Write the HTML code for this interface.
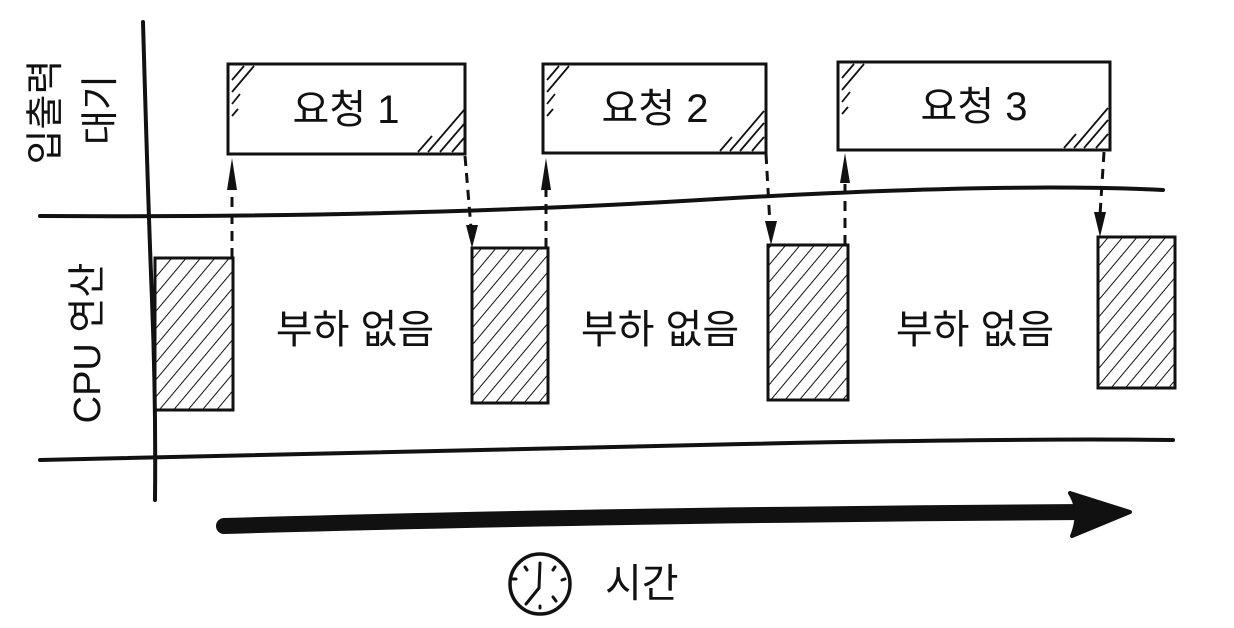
<!DOCTYPE html>
<html><head><meta charset="utf-8"><style>
html,body{margin:0;padding:0;background:#fff;}
svg{display:block}
text{font-family:"Liberation Sans","Noto Sans CJK KR",sans-serif;fill:#111;}
</style></head><body>
<svg width="1234" height="628" viewBox="0 0 1234 628" xmlns="http://www.w3.org/2000/svg">
<defs>
<pattern id="h" patternUnits="userSpaceOnUse" width="11" height="11" patternTransform="rotate(40)">
<line x1="0" y1="0" x2="0" y2="11" stroke="#111" stroke-width="2"/>
</pattern>
</defs>
<g stroke="#111" stroke-width="4" fill="none" stroke-linecap="round">
<path d="M143,22 Q148,200 152,300 T155,500"/>
<path d="M40,216 Q400,218 700,200 T1163,190"/>
<path d="M40,460 Q400,452 700,445 T1173,440"/>
</g>
<g stroke="#111" stroke-width="3" fill="#fff">
<rect x="228" y="64" width="237" height="90"/>
<rect x="543" y="64" width="223" height="89"/>
<rect x="838" y="62" width="272" height="88"/>
</g>
<g stroke="#111" stroke-width="1.8">
<path d="M232,80 l12,-14 M232,92 l22,-26 M232,104 l8,-10 M232,116 l6,-7 M440,152 l24,-28 M428,152 l36,-42 M418,152 l14,-16 M452,152 l12,-14"/>
<path d="M547,80 l12,-14 M547,92 l22,-26 M547,104 l8,-10 M547,116 l6,-7 M740,151 l24,-28 M730,151 l34,-40 M720,151 l12,-14 M752,151 l12,-14"/>
<path d="M842,78 l12,-14 M842,90 l22,-26 M842,102 l8,-10 M842,114 l6,-7 M1084,148 l24,-28 M1074,148 l34,-40 M1064,148 l12,-14 M1096,148 l12,-14"/>
</g>
<g font-size="40" text-anchor="middle">
<text x="346" y="123">요청 1</text>
<text x="655" y="122">요청 2</text>
<text x="974" y="120">요청 3</text>
</g>
<g stroke="#111" stroke-width="3" fill="url(#h)">
<rect x="155" y="258" width="78" height="152"/>
<rect x="472" y="248" width="76" height="155"/>
<rect x="768" y="245" width="80" height="155"/>
<rect x="1098" y="237" width="77" height="151"/>
</g>
<g stroke="#111" stroke-width="3" stroke-dasharray="10,7" fill="none">
<line x1="232" y1="258" x2="232" y2="185"/>
<line x1="465" y1="156" x2="471" y2="228"/>
<line x1="546" y1="248" x2="546" y2="185"/>
<line x1="766" y1="154" x2="770" y2="225"/>
<line x1="845" y1="245" x2="845" y2="180"/>
<line x1="1104" y1="152" x2="1100" y2="215"/>
</g>
<g fill="#111">
<path d="M232,158 L237,190 L227,190 Z"/>
<path d="M546,158 L551,190 L541,190 Z"/>
<path d="M845,153 L850,183 L840,183 Z"/>
<path d="M472,248 L466,225 L478,225 Z"/>
<path d="M771,245 L765,221 L777,221 Z"/>
<path d="M1100,237 L1094,212 L1106,212 Z"/>
</g>
<g font-size="40" text-anchor="middle">
<text x="355" y="343">부하 없음</text>
<text x="660" y="343">부하 없음</text>
<text x="975" y="343">부하 없음</text>
</g>
<g font-size="38" text-anchor="middle">
<text transform="translate(58,112) rotate(-90)">입출력</text>
<text transform="translate(113,110) rotate(-90)">대기</text>
<text transform="translate(100,343) rotate(-90)">CPU 연산</text>
</g>
<path d="M224,526 Q600,515 1085,512" stroke="#111" stroke-width="16" fill="none" stroke-linecap="round"/>
<path d="M1070,493 L1130,512 L1072,536 Q1082,512 1070,493 Z" fill="#111" stroke="#111" stroke-width="4" stroke-linejoin="round"/>
<circle cx="540" cy="584" r="30" stroke="#111" stroke-width="3.5" fill="none"/>
<g stroke="#111" stroke-width="3" stroke-linecap="round">
<line x1="540" y1="563" x2="539" y2="588"/>
<line x1="539" y1="588" x2="526" y2="604"/>
<line x1="513" y1="579" x2="516" y2="579"/>
<line x1="525" y1="567" x2="527" y2="570"/>
<line x1="555" y1="567" x2="553" y2="570"/>
<line x1="562" y1="580" x2="565" y2="579"/>
<line x1="553" y1="597" x2="556" y2="601"/>
<line x1="540" y1="606" x2="540" y2="608"/>
</g>
<text x="605" y="597" font-size="40">시간</text>
</svg>
</body></html>
